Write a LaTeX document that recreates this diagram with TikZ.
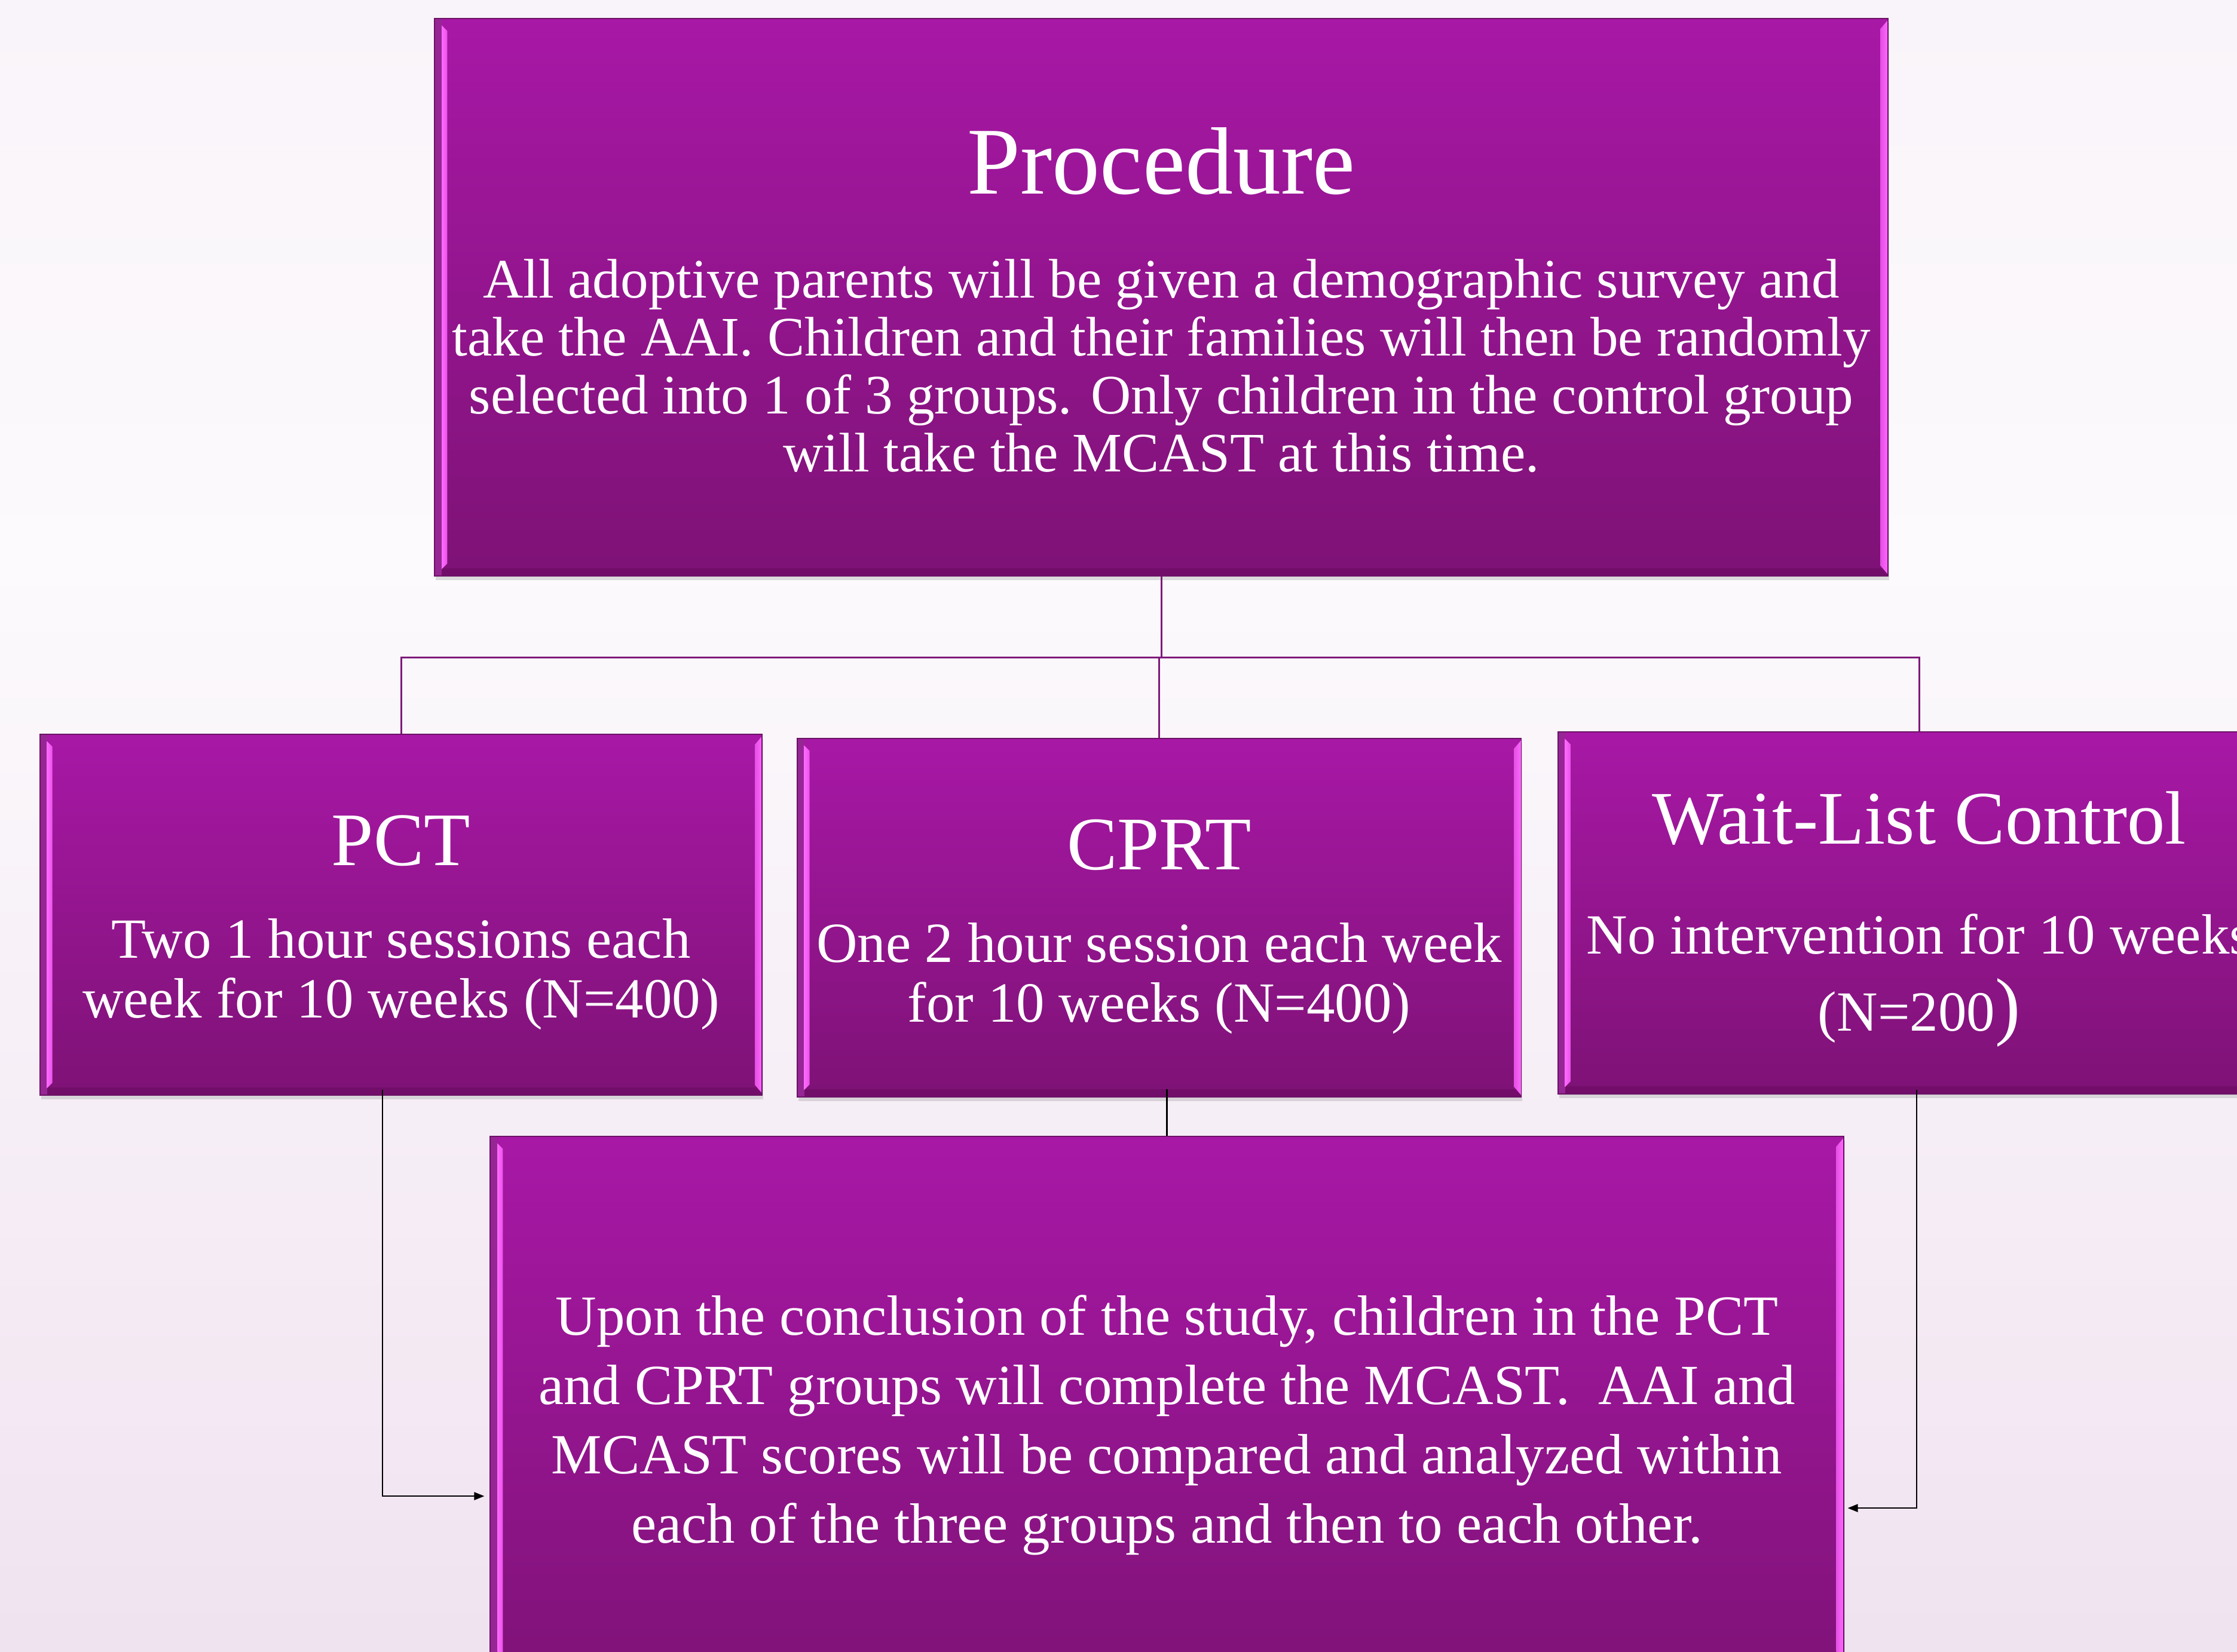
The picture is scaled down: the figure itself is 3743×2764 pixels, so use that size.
\documentclass[tikz,border=0pt]{standalone}
\usepackage{fontspec}
\setmainfont{Liberation Serif}
\usetikzlibrary{arrows.meta,shadows}
\definecolor{slidetop}{RGB}{245,235,245}
\definecolor{slidemid}{RGB}{252,250,252}
\definecolor{slidebot}{RGB}{231,209,231}
\definecolor{boxtop}{RGB}{168,24,166}
\definecolor{boxbot}{RGB}{126,18,118}
\definecolor{boxrim}{RGB}{108,18,102}
\definecolor{boxband}{RGB}{150,38,148}
\definecolor{boxglow}{RGB}{255,104,255}
\definecolor{boxfoot}{RGB}{114,14,106}
\definecolor{busline}{RGB}{126,26,122}
\pgfdeclareverticalshading{slidebg}{100bp}{color(0bp)=(slidebot); color(58bp)=(slidemid); color(100bp)=(slidetop)}
\tikzset{
  pbox/.style={draw=boxrim, line width=0.5pt, top color=boxtop, bottom color=boxbot, inner sep=0pt,
    drop shadow={shadow xshift=0.02cm, shadow yshift=-0.07cm, opacity=0.25},
    path picture={
      \fill[boxfoot] ([yshift=0.13cm]path picture bounding box.south west) rectangle (path picture bounding box.south east);
      \fill[boxband] (path picture bounding box.north west) rectangle ([xshift=0.12cm]path picture bounding box.south west);
      \shade[left color=boxglow, right color=boxglow!75!boxtop]
        ([xshift=0.12cm,yshift=-0.12cm]path picture bounding box.north west) -- ([xshift=0.21cm,yshift=-0.21cm]path picture bounding box.north west)
        -- ([xshift=0.21cm,yshift=0.21cm]path picture bounding box.south west) -- ([xshift=0.12cm,yshift=0.12cm]path picture bounding box.south west) -- cycle;
      \shade[left color=boxglow!70!boxtop, right color=boxglow]
        ([xshift=-0.12cm,yshift=-0.17cm]path picture bounding box.north east) -- ([yshift=-0.03cm]path picture bounding box.north east)
        -- ([yshift=0.03cm]path picture bounding box.south east) -- ([xshift=-0.12cm,yshift=0.17cm]path picture bounding box.south east) -- cycle;
    }},
  ptitle/.style={text=white, inner sep=0pt, anchor=base, font=\fontsize{45.5}{54}\selectfont},
  ptext/.style={text=white, inner sep=0pt, anchor=base, align=center, font=\fontsize{26.5}{27.6}\selectfont},
  gtitle/.style={text=white, inner sep=0pt, anchor=base, font=\fontsize{36}{43}\selectfont},
  gtext/.style={text=white, inner sep=0pt, anchor=base, align=center, font=\fontsize{27}{28.5}\selectfont},
  ctext/.style={text=white, inner sep=0pt, anchor=base, align=center, font=\fontsize{27}{33}\selectfont},
  busl/.style={draw=busline, line width=0.85pt},
  plain/.style={draw=black, line width=0.7pt},
  flow/.style={plain, -{Triangle[length=0.17cm,width=0.13cm]}}
}
\begin{document}
\begin{tikzpicture}[x=0.01cm, y=-0.01cm]
    \useasboundingbox (0,0) rectangle (3743,2764);
    \clip (0,0) rectangle (3743,2764);
    \shade[shading=slidebg] (0,0) rectangle (3743,2764);
    % procedure box
    \node[pbox, minimum width=24.3cm, minimum height=9.33cm] (proc) at (1943,497.5) {};
    \node[ptitle] (proctitle) at ([yshift=-2.94cm]proc.north) {Procedure};
    \node[ptext] (procbody) at ([yshift=-7.59cm]proc.north) {All adoptive parents will be given a demographic survey and\\
      take the AAI. Children and their families will then be randomly\\
      selected into 1 of 3 groups. Only children in the control group\\
      will take the MCAST at this time.};
    % the three groups
    \node[pbox, minimum width=12.08cm, minimum height=6.04cm] (pct) at (671,1531) {};
    \node[gtitle] (pcttitle) at ([yshift=-2.2cm]pct.north) {PCT};
    \node[gtext] (pctbody) at ([yshift=-4.75cm]pct.north) {Two 1 hour sessions each\\week for 10 weeks (N=400)};
    \node[pbox, minimum width=12.11cm, minimum height=6.0cm] (cprt) at (1939.5,1536) {};
    \node[gtitle] (cprttitle) at ([yshift=-2.2cm]cprt.north) {CPRT};
    \node[gtext] (cprtbody) at ([yshift=-4.75cm]cprt.north) {One 2 hour session each week\\for 10 weeks (N=400)};
    \node[pbox, minimum width=12.08cm, minimum height=6.06cm] (wait) at (3211,1528) {};
    \node[gtitle] (waittitle) at ([yshift=-1.88cm]wait.north) {Wait-List Control};
    \node[gtext] (waitbody) at ([yshift=-5.01cm]wait.north) {No intervention for 10 weeks\\[8pt]
      (N=200{\fontsize{36}{36}\selectfont)}};
    % conclusion box
    \node[pbox, minimum width=22.63cm, minimum height=9.46cm] (concl) at (1952.5,2375) {};
    \node[ctext] (conclbody) at ([yshift=-6.81cm]concl.north) {Upon the conclusion of the study, children in the PCT\\
      and CPRT groups will complete the MCAST.\ \ AAI and\\
      MCAST scores will be compared and analyzed within\\
      each of the three groups and then to each other.};
    % connectors
    \coordinate (bus) at (1941,1100);
    \draw[busl] (proc.south) -- (proc.south |- bus);
    \draw[busl] (pct.north) -- (pct.north |- bus) -- (wait.north |- bus) -- (wait.north);
    \draw[busl] (cprt.north) -- (cprt.north |- bus);
    \draw[flow] ([xshift=-0.31cm,yshift=0.1cm]pct.south) |- ([xshift=-0.09cm,yshift=-1.29cm]concl.west);
    \draw[flow] ([xshift=-0.04cm,yshift=0.08cm]wait.south) |- ([xshift=0.06cm,yshift=-1.49cm]concl.east);
    \coordinate (cprtfoot) at ([yshift=0.14cm]cprt.south);
    \draw[plain] (cprtfoot -| concl.north) -- (concl.north);
\end{tikzpicture}
\end{document}
